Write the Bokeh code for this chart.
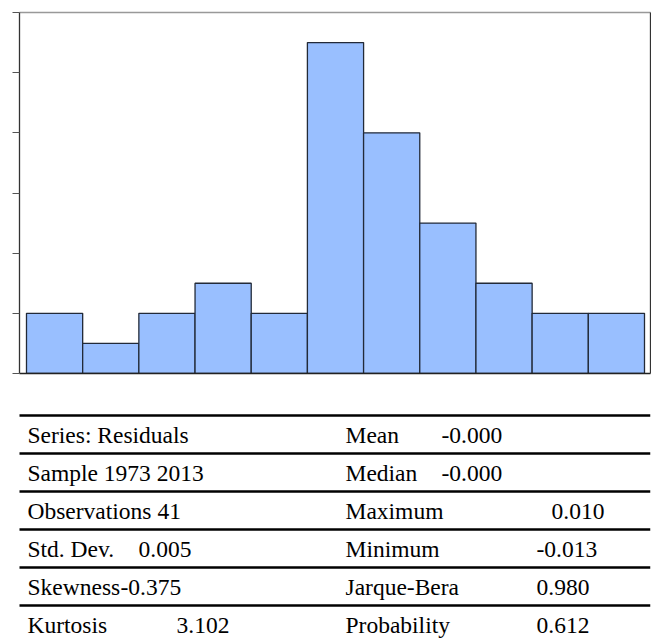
from bokeh.plotting import figure
from bokeh.layouts import column
from bokeh.models import Range1d, LinearAxis, FixedTicker
from bokeh.core.properties import value
from bokeh.embed import file_html
from bokeh.resources import INLINE

# ---- data ----
bin_edges = [-0.0132, -0.0110, -0.0088, -0.0066, -0.0044, -0.0022,
             0.0000, 0.0022, 0.0044, 0.0066, 0.0088, 0.0110]
counts = [2, 1, 2, 3, 2, 11, 8, 5, 3, 2, 2]
y_ticks = [0, 2, 4, 6, 8, 10, 12]

left_labels = ["Series: Residuals", "Sample 1973 2013", "Observations 41",
               "Std. Dev.", "Skewness", "Kurtosis"]
left_values = ["", "", "", "0.005", "-0.375", "3.102"]
right_labels = ["Mean", "Median", "Maximum", "Minimum", "Jarque-Bera", "Probability"]
right_values = ["-0.000", "-0.000", "0.010", "-0.013", "0.980", "0.612"]

# ---- layout / style ----
FONT = value("Liberation Serif")
FS = "23.5px"
left_value_x = [0, 0, 0, 138, 120, 176]
right_value_x = [441, 441, 551, 536, 536, 536]
row_top0, row_h = 415, 38

# ---- histogram ----
p = figure(width=651, height=395,
           x_range=Range1d(-0.013474, 0.011235), y_range=Range1d(0, 12),
           x_axis_type=None, y_axis_type=None,
           output_backend="svg", toolbar_location=None,
           min_border_left=19, min_border_right=1,
           min_border_top=12, min_border_bottom=22)
p.outline_line_color = None
p.background_fill_color = "white"
p.border_fill_color = "white"

yaxis = LinearAxis(ticker=FixedTicker(ticks=y_ticks), major_tick_out=7, major_tick_in=0,
                   minor_tick_line_color=None, major_label_text_font_size="0px",
                   major_label_text_color=None,
                   major_label_standoff=0, axis_line_color="#333333",
                   major_tick_line_color="#555555", axis_line_width=1.3)
p.add_layout(yaxis, "left")
for side, col in (("below", "#222222"), ("above", "#999999"), ("right", "#333333")):
    ax = LinearAxis(ticker=FixedTicker(ticks=[]), major_tick_out=0, major_tick_in=0,
                    minor_tick_line_color=None, major_label_text_font_size="0px",
                    major_label_text_color=None,
                    major_label_standoff=0, axis_line_color=col, axis_line_width=1.3)
    p.add_layout(ax, side)

p.quad(left=bin_edges[:-1], right=bin_edges[1:], bottom=0, top=counts,
       fill_color="#99BFFF", line_color="#222a38", line_width=1.3)

# ---- stats table ----
t = figure(width=651, height=245,
           x_range=Range1d(19, 650), y_range=Range1d(640, 395),
           x_axis_type=None, y_axis_type=None,
           output_backend="svg", toolbar_location=None,
           min_border_left=19, min_border_right=1, min_border_top=0, min_border_bottom=0)
t.outline_line_color = None

n = len(left_labels)
line_y = [row_top0 + row_h * i for i in range(n)]
t.segment(x0=[12] * n, x1=[650] * n, y0=line_y, y1=line_y,
          line_color="black", line_width=2.4)
mid_y = [y + 19.5 for y in line_y]

common = dict(text_font=FONT, text_font_size=FS, text_baseline="middle",
              text_align="left", text_color="black")
t.text(x=[27] * n, y=mid_y, text=left_labels, **common)
lv_idx = [i for i in range(n) if left_values[i]]
t.text(x=[left_value_x[i] for i in lv_idx], y=[mid_y[i] for i in lv_idx],
       text=[left_values[i] for i in lv_idx], **common)
t.text(x=[345] * n, y=mid_y, text=right_labels, **common)
t.text(x=right_value_x, y=mid_y, text=right_values, **common)

layout = column(p, t, spacing=0)

open("out.html", "w").write(file_html(layout, INLINE))
